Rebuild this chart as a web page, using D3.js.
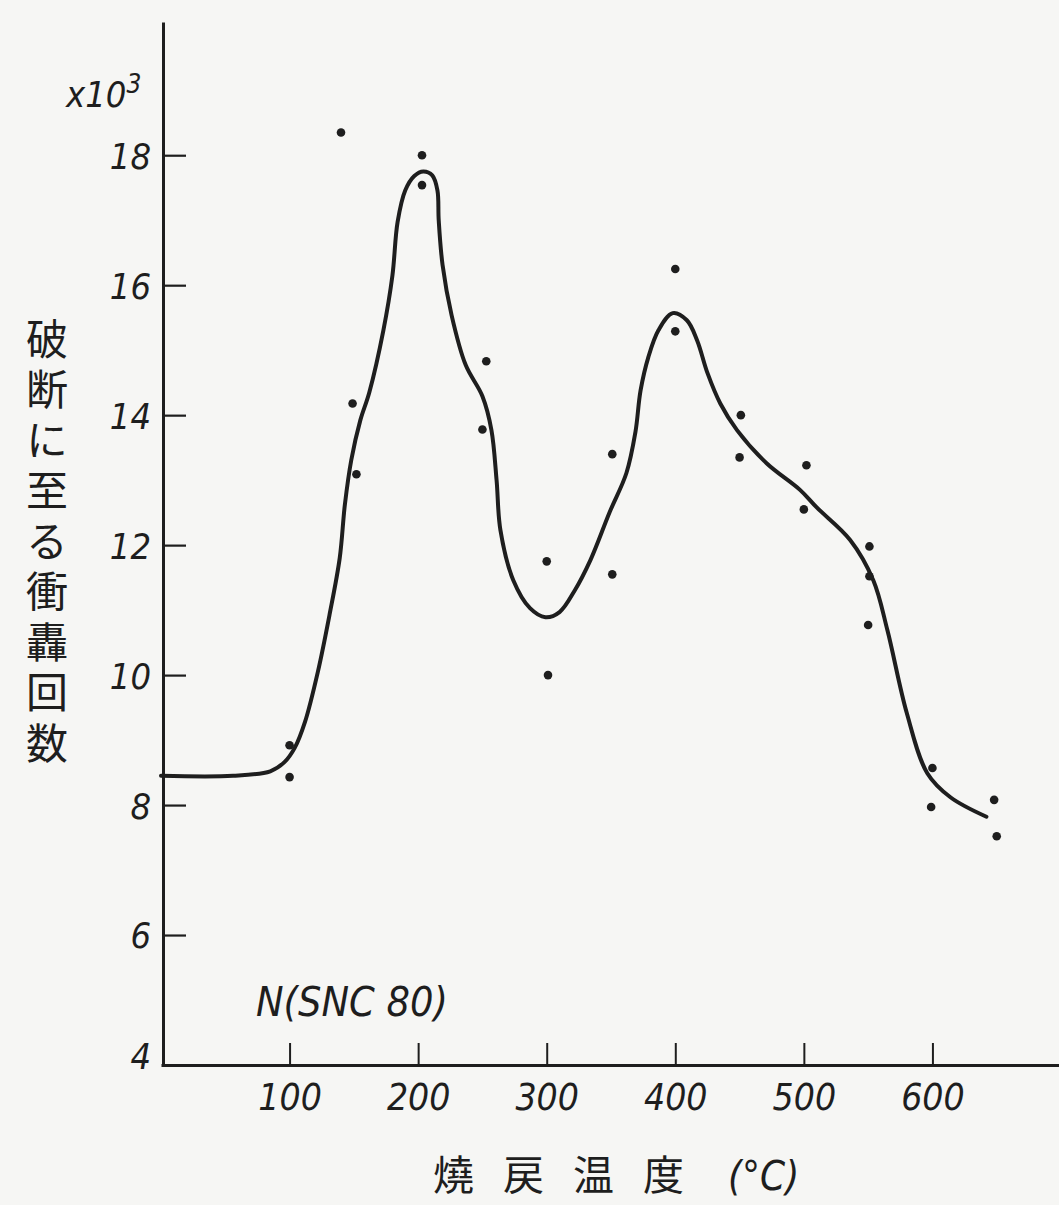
<!DOCTYPE html>
<html>
<head>
<meta charset="utf-8">
<script src="https://cdn.jsdelivr.net/npm/d3@7"></script>
<style>
  html, body { margin: 0; padding: 0; background: #f6f6f4; }
  svg { display: block; }
  .num { font-family: "DejaVu Sans", sans-serif; font-stretch: condensed; font-style: italic; font-weight: 300; fill: #1e1e1e; }
  .jp { font-family: "Noto Sans CJK JP", sans-serif; fill: #1e1e1e; }
</style>
</head>
<body>
<script>
// Tempering temperature (°C) and cycles to fracture (×10³), steel N (SNC 80)
const sampleTemps  = [100, 100, 140, 149, 152, 203, 203, 253, 250, 300, 301, 351, 351, 400, 400, 451, 450, 502, 500, 551, 551, 550, 600, 599, 648, 650];
const sampleCycles = [8.92, 8.43, 18.35, 14.18, 13.09, 18.0, 17.54, 14.83, 13.78, 11.75, 10.0, 13.4, 11.55, 16.25, 15.29, 14.0, 13.35, 13.23, 12.55, 11.98, 11.52, 10.77, 8.57, 7.97, 8.08, 7.52];

// Hand-faired trend curve through the samples
const curveTemps  = [0, 56, 85, 96, 104, 112, 122, 131, 139, 143, 148, 155, 162, 173, 180, 184, 190, 197, 204, 211, 215, 216, 219, 226, 237, 250, 257, 261, 264, 274, 287, 299, 310, 322, 334, 349, 362, 369, 373, 379, 387, 398, 409, 417, 425, 435, 448, 471, 497, 510, 536, 554, 565, 580, 596, 614, 642];
const curveCycles = [8.45, 8.45, 8.52, 8.66, 8.88, 9.28, 10.05, 10.92, 11.8, 12.62, 13.31, 13.92, 14.35, 15.31, 16.15, 16.97, 17.46, 17.68, 17.75, 17.69, 17.46, 17.0, 16.31, 15.54, 14.77, 14.29, 13.77, 13.0, 12.23, 11.46, 11.03, 10.89, 10.97, 11.31, 11.77, 12.51, 13.11, 13.74, 14.38, 14.89, 15.31, 15.57, 15.46, 15.15, 14.65, 14.18, 13.77, 13.26, 12.85, 12.58, 12.08, 11.46, 10.69, 9.42, 8.49, 8.12, 7.82];

const xTicks = [100, 200, 300, 400, 500, 600];
const yTicks = [4, 6, 8, 10, 12, 14, 16, 18];
const yTitle = "破断に至る衝轟回数";
const xTitle = "燒戻温度";
const xUnit = "(°C)";
const seriesName = "N(SNC 80)";

const W = 1059, H = 1205;
const svg = d3.select("body").append("svg").attr("width", W).attr("height", H);

const x = d3.scaleLinear().domain([0, 700]).range([161, 1061]);
const y = d3.scaleLinear().domain([4, 20.05]).range([1065, 22]);

const ink = "#1e1e1e";

// Y axis, ticks pointing into the plot
const yAxis = svg.append("g")
  .attr("transform", `translate(${x(0) + 2},0)`)
  .call(d3.axisLeft(y).tickValues(yTicks).tickSizeInner(-23).tickSizeOuter(0).tickPadding(12)
        .tickFormat(d => d === 4 ? "" : d));
yAxis.select(".domain").attr("stroke", ink).attr("stroke-width", 3);
yAxis.selectAll(".tick line").attr("stroke", ink).attr("stroke-width", 2.2);
yAxis.selectAll(".tick text").attr("class", "num").attr("font-size", 36).attr("dy", "0.36em");

// Separate "4" label sits at the corner, a little above the baseline
svg.append("text").attr("class", "num").attr("font-size", 36)
  .attr("x", x(0) - 10).attr("y", y(4) + 4).attr("text-anchor", "end").text("4");

// X axis, ticks pointing up
const xAxis = svg.append("g")
  .attr("transform", `translate(0,${y(4)})`)
  .call(d3.axisBottom(x).tickValues(xTicks).tickSizeInner(-22).tickSizeOuter(0).tickPadding(19));
xAxis.select(".domain").attr("stroke", ink).attr("stroke-width", 3.2);
xAxis.selectAll(".tick line").attr("stroke", ink).attr("stroke-width", 2);
xAxis.selectAll(".tick text").attr("class", "num").attr("font-size", 37);

// Unit marker above the y axis
const unit = svg.append("text").attr("class", "num").attr("font-size", 36)
  .attr("x", 66).attr("y", 107);
unit.append("tspan").text("x10");
unit.append("tspan").attr("font-size", 26).attr("dy", -14).text("3");

// Vertical y title, set top-to-bottom
svg.append("text").attr("class", "jp").attr("font-size", 42)
  .attr("x", 47).attr("y", 318)
  .style("writing-mode", "vertical-rl")
  .attr("letter-spacing", 8.5)
  .text(yTitle);

// X title
svg.append("text").attr("class", "jp").attr("font-size", 41)
  .attr("x", 433).attr("y", 1190).attr("letter-spacing", 29).text(xTitle);
svg.append("text").attr("class", "num").attr("font-size", 40)
  .attr("x", 728).attr("y", 1190).text(xUnit);

// Series label
svg.append("text").attr("class", "num").attr("font-size", 41)
  .attr("x", 256).attr("y", 1016).text(seriesName);

// Trend curve
const curveData = curveTemps.map((t, i) => [t, curveCycles[i]]);
svg.append("path")
  .datum(curveData)
  .attr("fill", "none").attr("stroke", ink).attr("stroke-width", 4)
  .attr("stroke-linecap", "round").attr("stroke-linejoin", "round")
  .attr("d", d3.line().x(d => x(d[0])).y(d => y(d[1])).curve(d3.curveCatmullRom.alpha(0.5)));

// Sample points
const samples = sampleTemps.map((t, i) => [t, sampleCycles[i]]);
svg.append("g").selectAll("circle").data(samples).join("circle")
  .attr("cx", d => x(d[0])).attr("cy", d => y(d[1])).attr("r", 4.3).attr("fill", ink);
</script>
</body>
</html>
